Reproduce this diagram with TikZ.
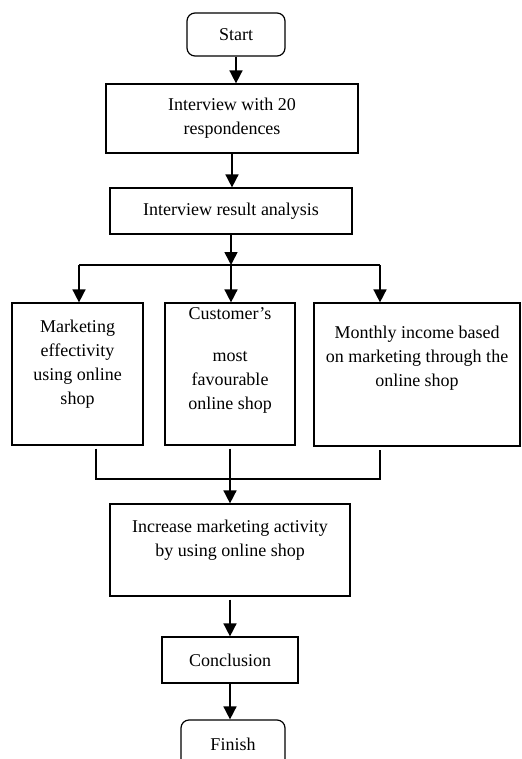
\documentclass[tikz,border=0pt]{standalone}
\usepackage{fontspec}
\setmainfont{Liberation Serif}
\usetikzlibrary{arrows.meta, calc}

\begin{document}
\begin{tikzpicture}[x=0.5pt, y=-0.5pt,
  box/.style={draw, line width=0.6pt, inner sep=0pt, align=center, font=\fontsize{9}{12}\selectfont},
  term/.style={box, rounded corners=4pt},
  arr/.style={-{Triangle[length=6.5pt, width=6.5pt]}, line width=0.8pt},
  link/.style={line width=0.7pt}]
  \useasboundingbox (0, 0) rectangle (521, 759);

  % ----- Top: interview steps -----
  \node[term, minimum width=49pt, minimum height=21.5pt] (start) at (236, 34.5) {Start};
  \node[box, minimum width=126pt, minimum height=34.5pt] (interview) at (232, 118.5) {Interview with 20\\ respondences};
  \node[box, minimum width=121pt, minimum height=23pt] (analysis) at (231, 211) {Interview result analysis};

  \draw[arr] (start.south) -- (start.south |- interview.north);
  \draw[arr] (interview.south) -- (interview.south |- analysis.north);

  % ----- Middle: three results -----
  \node[box, minimum width=65.5pt, minimum height=71pt] (mkt) at (77.5, 374) {Marketing\\ effectivity\\ using online\\ shop\\ ~};
  \node[box, minimum width=65pt, minimum height=71pt] (fav) at (230, 374) {Customer's\\[9pt] most\\ favourable\\ online shop\\[3pt] ~};
  \node[box, minimum width=103pt, minimum height=71.5pt] (income) at (417, 374.5) {Monthly income based\\ on marketing through the\\ online shop\\[6.5pt] ~};

  % Split below the analysis
  \coordinate (split) at (231, 265);
  \coordinate (toL) at (79, 265);
  \coordinate (toR) at (380, 265);
  \draw[arr] (analysis.south) -- (split);
  \draw[link] (toL) -- (toR);
  \draw[arr] (toL) -- (toL |- mkt.north);
  \draw[arr] (split) -- (split |- fav.north);
  \draw[arr] (toR) -- (toR |- income.north);

  % ----- Bottom: merge and finish -----
  \node[box, minimum width=120pt, minimum height=46pt] (increase) at (230, 550) {Increase marketing activity\\ by using online shop\\ ~};
  \node[box, minimum width=68pt, minimum height=23pt] (concl) at (230, 660) {Conclusion};
  \node[term, minimum width=52pt, minimum height=24pt] (finish) at (233, 744) {Finish};

  % Merge lines
  \coordinate (fromL) at (96, 479);
  \coordinate (fromR) at (380, 479);
  \draw[link] ($(mkt.south -| fromL) + (0, 3)$) -- (fromL) -- (fromR) -- ($(income.south -| fromR) + (0, 3)$);
  \draw[arr] ($(fav.south) + (0, 3)$) -- (fav.south |- increase.north);

  \draw[arr] ($(increase.south) + (0, 3)$) -- (increase.south |- concl.north);
  \draw[arr] (concl.south) -- (concl.south |- finish.north);
\end{tikzpicture}
\end{document}
